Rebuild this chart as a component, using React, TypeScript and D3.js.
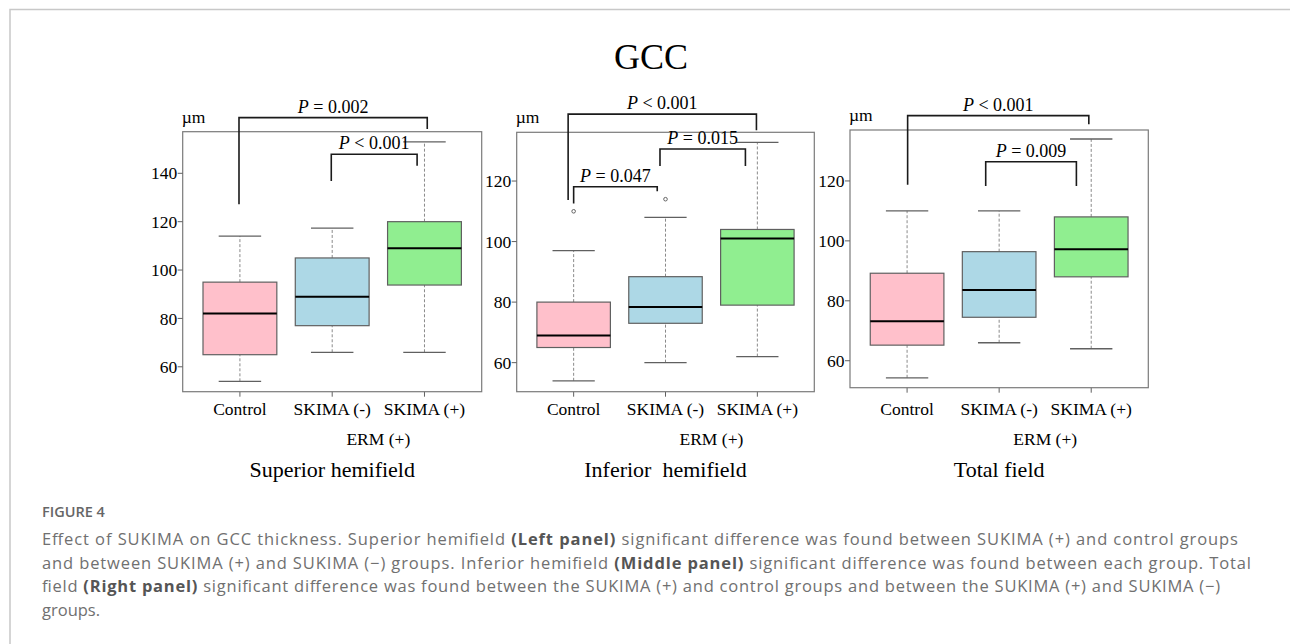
import { useEffect, useRef } from 'react';
import * as d3 from 'd3';

const groups = ['Control', 'SKIMA (-)', 'SKIMA (+)'];
const boxFills = ['#FFC0CB', '#ADD8E6', '#90EE90'];

// [lower whisker, Q1, median, Q3, upper whisker]
const superiorStats = [
  [54, 65, 82, 95, 114],
  [66, 77, 89, 105, 117.3],
  [66, 93.8, 109, 120, 153],
];
const inferiorStats = [
  [54, 65, 69, 80, 97],
  [60, 73, 78.4, 88.4, 108],
  [62, 79, 101, 104, 132.8],
];
const totalStats = [
  [54.3, 65.2, 73.2, 89.2, 110],
  [66, 74.5, 83.6, 96.4, 110],
  [64, 88, 97.2, 108, 134],
];

const superiorOutliers = [[], [], []];
const inferiorOutliers = [[110], [114], []];
const totalOutliers = [[], [], []];

const superiorTicks = [60, 80, 100, 120, 140];
const inferiorTicks = [60, 80, 100, 120];
const totalTicks = [60, 80, 100, 120];

// x in group units (1 = Control), heights in µm
const superiorBrackets = [
  { x1: 0.99, x2: 3.03, top: 163, leftEnd: 127.2, rightEnd: 158.3, op: '=', p: '0.002' },
  { x1: 1.99, x2: 2.92, top: 147.9, leftEnd: 136.8, rightEnd: 143.1, op: '<', p: '0.001' },
];
const inferiorBrackets = [
  { x1: 0.94, x2: 2.99, top: 142.1, leftEnd: 113.7, rightEnd: 136.8, op: '<', p: '0.001' },
  { x1: 1.94, x2: 2.87, top: 130.6, leftEnd: 125, rightEnd: 125, op: '=', p: '0.015' },
  { x1: 1.0, x2: 1.91, top: 118.1, leftEnd: 112.6, rightEnd: 116.6, op: '=', p: '0.047' },
];
const totalBrackets = [
  { x1: 1.006, x2: 2.974, top: 141.8, leftEnd: 118.7, rightEnd: 138.9, op: '<', p: '0.001' },
  { x1: 1.854, x2: 2.839, top: 126.4, leftEnd: 118.3, rightEnd: 118.3, op: '=', p: '0.009' },
];

const panels = [
  {
    title: 'Superior hemifield',
    stats: superiorStats,
    outliers: superiorOutliers,
    ticks: superiorTicks,
    yDomain: [49.7, 157.2],
    brackets: superiorBrackets,
    frame: { left: 182.7, right: 481.7, top: 131.7, bottom: 391.7 },
  },
  {
    title: 'Inferior\u00a0\u00a0hemifield',
    stats: inferiorStats,
    outliers: inferiorOutliers,
    ticks: inferiorTicks,
    yDomain: [50.4, 136.1],
    brackets: inferiorBrackets,
    frame: { left: 516.7, right: 814.3, top: 132.3, bottom: 391.7 },
  },
  {
    title: 'Total field',
    stats: totalStats,
    outliers: totalOutliers,
    ticks: totalTicks,
    yDomain: [51, 137],
    brackets: totalBrackets,
    frame: { left: 850, right: 1148.3, top: 130, bottom: 387.7 },
  },
];

const captionLines: { parts: [string, boolean][]; width?: number }[] = [
  {
    parts: [
      ['Effect of SUKIMA on GCC thickness. Superior hemifield ', false],
      ['(Left panel)', true],
      [' significant difference was found between SUKIMA (+) and control groups', false],
    ],
    width: 1196,
  },
  {
    parts: [
      ['and between SUKIMA (+) and SUKIMA (\u2212) groups. Inferior hemifield ', false],
      ['(Middle panel)', true],
      [' significant difference was found between each group. Total', false],
    ],
    width: 1209,
  },
  {
    parts: [
      ['field ', false],
      ['(Right panel)', true],
      [' significant difference was found between the SUKIMA (+) and control groups and between the SUKIMA (+) and SUKIMA (\u2212)', false],
    ],
    width: 1178,
  },
  { parts: [['groups.', false]] },
];

const SERIF = '"Liberation Serif", "Times New Roman", Times, serif';
const SANS = '"Open Sans", "Noto Sans", sans-serif';

export default function App() {
  const svgRef = useRef<SVGSVGElement>(null);

  useEffect(() => {
    if (!svgRef.current) return;
    const svg = d3.select(svgRef.current);
    svg.selectAll('*').remove();

    // figure frame
    svg
      .append('path')
      .attr('d', 'M10,644V9.5H1290')
      .attr('fill', 'none')
      .attr('stroke', '#c8c8c8')
      .attr('stroke-width', 1.5);

    svg
      .append('text')
      .attr('x', 651)
      .attr('y', 68.5)
      .attr('text-anchor', 'middle')
      .attr('font-family', SERIF)
      .attr('font-size', 36)
      .text('GCC');

    panels.forEach((p) => {
      const g = svg.append('g');
      const f = p.frame;
      const x = d3.scaleLinear().domain([0.38, 3.62]).range([f.left, f.right]);
      const y = d3.scaleLinear().domain(p.yDomain).range([f.bottom, f.top]);

      groups.forEach((name, i) => {
        const s = p.stats[i];
        const c = i + 1;
        // whiskers
        [
          [s[0], s[1]],
          [s[3], s[4]],
        ].forEach(([a, b]) => {
          g.append('line')
            .attr('x1', x(c))
            .attr('x2', x(c))
            .attr('y1', y(a))
            .attr('y2', y(b))
            .attr('stroke', '#8a8a8a')
            .attr('stroke-width', 1)
            .attr('stroke-dasharray', '3,2');
        });
        [s[0], s[4]].forEach((v) => {
          g.append('line')
            .attr('x1', x(c - 0.23))
            .attr('x2', x(c + 0.23))
            .attr('y1', y(v))
            .attr('y2', y(v))
            .attr('stroke', '#606060')
            .attr('stroke-width', 1.3);
        });
        g.append('rect')
          .attr('x', x(c - 0.4))
          .attr('y', y(s[3]))
          .attr('width', x(c + 0.4) - x(c - 0.4))
          .attr('height', y(s[1]) - y(s[3]))
          .attr('fill', boxFills[i])
          .attr('stroke', '#606060')
          .attr('stroke-width', 1.2);
        g.append('line')
          .attr('x1', x(c - 0.4))
          .attr('x2', x(c + 0.4))
          .attr('y1', y(s[2]))
          .attr('y2', y(s[2]))
          .attr('stroke', '#000')
          .attr('stroke-width', 2);
        p.outliers[i].forEach((v) => {
          g.append('circle')
            .attr('cx', x(c))
            .attr('cy', y(v))
            .attr('r', 1.8)
            .attr('fill', 'none')
            .attr('stroke', '#555')
            .attr('stroke-width', 0.9);
        });

        // x tick + label
        g.append('line')
          .attr('x1', x(c))
          .attr('x2', x(c))
          .attr('y1', f.bottom)
          .attr('y2', f.bottom + 5)
          .attr('stroke', '#606060');
        g.append('text')
          .attr('x', x(c))
          .attr('y', 414.5)
          .attr('text-anchor', 'middle')
          .attr('font-family', SERIF)
          .attr('font-size', 17.5)
          .text(name);
      });

      // plot frame
      g.append('rect')
        .attr('x', f.left)
        .attr('y', f.top)
        .attr('width', f.right - f.left)
        .attr('height', f.bottom - f.top)
        .attr('fill', 'none')
        .attr('stroke', '#7a7a7a')
        .attr('stroke-width', 1.2);

      // y ticks
      p.ticks.forEach((t) => {
        g.append('line')
          .attr('x1', f.left - 5)
          .attr('x2', f.left)
          .attr('y1', y(t))
          .attr('y2', y(t))
          .attr('stroke', '#606060');
        g.append('text')
          .attr('x', f.left - 5.5)
          .attr('y', y(t))
          .attr('dy', '0.35em')
          .attr('text-anchor', 'end')
          .attr('font-family', SERIF)
          .attr('font-size', 17.5)
          .text(t);
      });

      g.append('text')
        .attr('x', f.left - 1)
        .attr('y', f.top - 9)
        .attr('font-family', SERIF)
        .attr('font-size', 17.5)
        .text('\u00b5m');

      g.append('text')
        .attr('x', x(2.5))
        .attr('y', 445)
        .attr('text-anchor', 'middle')
        .attr('font-family', SERIF)
        .attr('font-size', 17.5)
        .text('ERM (+)');

      g.append('text')
        .attr('x', x(2))
        .attr('y', 477)
        .attr('text-anchor', 'middle')
        .attr('font-family', SERIF)
        .attr('font-size', 22)
        .text(p.title);

      // significance brackets
      p.brackets.forEach((b) => {
        const path = d3.path();
        path.moveTo(x(b.x1), y(b.leftEnd));
        path.lineTo(x(b.x1), y(b.top));
        path.lineTo(x(b.x2), y(b.top));
        path.lineTo(x(b.x2), y(b.rightEnd));
        g.append('path')
          .attr('d', path.toString())
          .attr('fill', 'none')
          .attr('stroke', '#1a1a1a')
          .attr('stroke-width', 1.6);
        const lbl = g
          .append('text')
          .attr('x', x((b.x1 + b.x2) / 2))
          .attr('y', y(b.top) - 5)
          .attr('text-anchor', 'middle')
          .attr('font-family', SERIF)
          .attr('font-size', 18);
        lbl.append('tspan').attr('font-style', 'italic').text('P');
        lbl.append('tspan').text(` ${b.op} ${b.p}`);
      });
    });

    // caption
    svg
      .append('text')
      .attr('x', 42)
      .attr('y', 517)
      .attr('font-family', SANS)
      .attr('font-size', 14.5)
      .attr('font-weight', 600)
      .attr('fill', '#666')
      .text('FIGURE 4');

    captionLines.forEach((line, i) => {
      const t = svg
        .append('text')
        .attr('x', 42)
        .attr('y', 545 + i * 23.5)
        .attr('font-family', SANS)
        .attr('font-size', 16.5)
        .attr('fill', '#707070');
      if (line.width) t.attr('textLength', line.width).attr('lengthAdjust', 'spacing');
      line.parts.forEach(([s, bold]) => {
        t.append('tspan')
          .attr('font-weight', bold ? 700 : 400)
          .attr('fill', bold ? '#555' : '#707070')
          .text(s);
      });
    });
  }, []);

  return (
    <svg
      ref={svgRef}
      width={1290}
      height={644}
      viewBox="0 0 1290 644"
      style={{ position: 'absolute', left: 0, top: 0, background: '#fff' }}
    />
  );
}
